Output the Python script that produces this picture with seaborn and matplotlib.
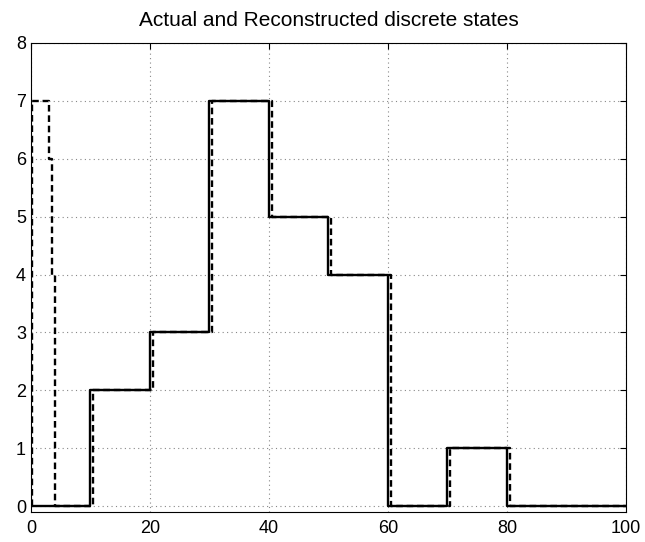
import matplotlib
matplotlib.use("Agg")
import matplotlib.pyplot as plt
import seaborn as sns
import numpy as np

# Actual discrete states (step, held from each time value)
actual_t = [0, 10, 20, 30, 40, 50, 60, 70, 80, 100]
actual_s = [0, 2, 3, 7, 5, 4, 0, 1, 0, 0]

# Reconstructed discrete states
recon_t = [0.1, 0.1, 3, 3.5, 4, 10.5, 20.5, 30.5, 40.5, 50.5, 60.5, 70.5, 80.5, 100]
recon_s = [0, 7, 6, 4, 0, 2, 3, 7, 5, 4, 0, 1, 0, 0]

title = "Actual and Reconstructed discrete states"
xticks = [0, 20, 40, 60, 80, 100]
yticks = [0, 1, 2, 3, 4, 5, 6, 7, 8]

sns.set_style("white")
plt.rcParams['font.family'] = ['Liberation Sans', 'DejaVu Sans']
plt.rcParams['text.color'] = 'black'

fig = plt.figure(figsize=(6.45, 5.42), dpi=100)
ax = fig.add_axes([0.048, 0.0554, 0.9225, 0.8653])

sns.lineplot(x=actual_t, y=actual_s, ax=ax, estimator=None, sort=False,
             drawstyle='steps-post', color='black', linewidth=1.7, zorder=3)
sns.lineplot(x=recon_t, y=recon_s, ax=ax, estimator=None, sort=False,
             drawstyle='steps-post', color='black', linewidth=1.7,
             dashes=False, linestyle=(0, (2.8, 1.6)), zorder=4)

ax.set_xlim(0, 100)
ax.set_ylim(-0.1, 8)
ax.set_xticks(xticks)
ax.set_yticks(yticks)
ax.grid(True, linestyle=(0, (1, 3)), color='#888888', linewidth=0.8)
ax.tick_params(direction='in', length=4, width=0.8, top=True, right=True,
               labelsize=13, colors='black')
ax.tick_params(axis='x', pad=5.5)
ax.tick_params(axis='y', pad=3.5)
for sp in ax.spines.values():
    sp.set_color('black')
    sp.set_linewidth(0.8)
ax.set_title(title, fontsize=15, pad=12, color='black')

fig.savefig("out.png", dpi=100)
